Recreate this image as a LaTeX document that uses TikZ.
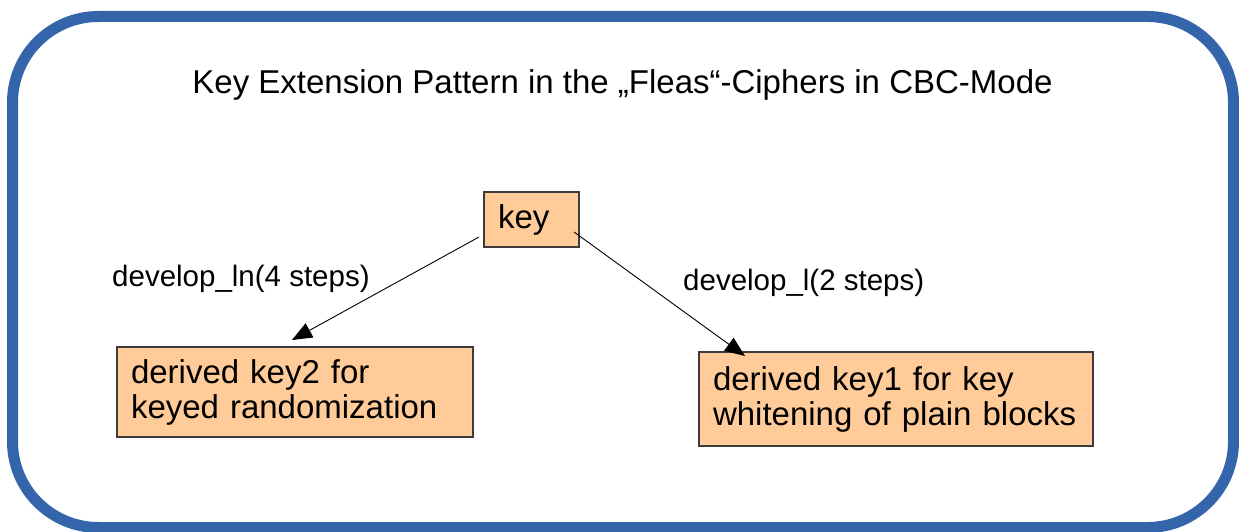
\documentclass[tikz,border=0pt]{standalone}
\usepackage{fontspec}
\setmainfont{Liberation Sans}
\usetikzlibrary{arrows.meta}
\definecolor{frameblue}{RGB}{52,101,170}
\definecolor{boxfill}{RGB}{255,204,153}
\definecolor{boxline}{RGB}{60,60,60}
\tikzset{
  keybox/.style={draw=boxline, fill=boxfill, line width=1.1pt, rectangle, align=left,
    inner xsep=14pt, font=\fontsize{33}{35}\selectfont},
  lbl/.style={anchor=base west, inner sep=0pt, font=\fontsize{29.5}{34}\selectfont},
  conn/.style={draw=black, line width=0.9pt, -{Triangle[length=20pt,width=16pt]}}
}
\begin{document}
\begin{tikzpicture}[x=1pt,y=-1pt]
\useasboundingbox (0,0) rectangle (1239,532);
\draw[frameblue, line width=11pt, rounded corners=86pt] (12.5,16.5) rectangle (1233.5,527.5);
\node[anchor=base, inner sep=0pt, font=\fontsize{33}{38}\selectfont] (title) at (622.5,94)
  {Key Extension Pattern in the „Fleas“-Ciphers in CBC-Mode};
\node[keybox, minimum width=95pt, minimum height=55pt, text width=67pt] (key) at (531.5,219.5) {key};
\node[keybox, minimum width=356pt, minimum height=90pt, text width=328pt] (k2) at (295,392)
  {derived key2 for\\keyed randomization};
\node[keybox, minimum width=394pt, minimum height=94pt, text width=366pt] (k1) at (896,399)
  {derived key1 for key\\whitening of plain blocks};
\node[lbl] (l2) at (112,286) {develop\_ln(4 steps)};
\node[lbl] (l1) at (683,290) {develop\_l(2 steps)};
\coordinate (s2) at (479,237);
\coordinate (e2) at (292,340);
\coordinate (s1) at (574,232);
\coordinate (e1) at (745,356);
\draw[conn] (s2) -- (e2);
\draw[conn] (s1) -- (e1);
\end{tikzpicture}
\end{document}
